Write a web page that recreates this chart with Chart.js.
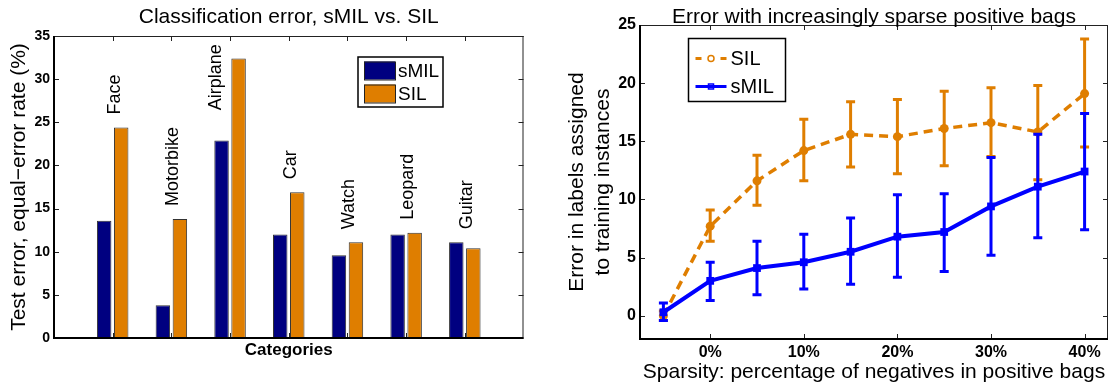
<!DOCTYPE html>
<html>
<head>
<meta charset="utf-8">
<script src="https://cdn.jsdelivr.net/npm/chart.js@4.4.1/dist/chart.umd.min.js"></script>
<style>
  body { margin: 0; background: #fff; }
  #wrap { position: relative; width: 1109px; height: 383px; overflow: hidden; }
  canvas { position: absolute; top: 0; }
  #barChart { left: 0; }
  #lineChart { left: 545px; }
</style>
</head>
<body>
<div id="wrap">
  <canvas id="barChart" width="545" height="383"></canvas>
  <canvas id="lineChart" width="564" height="383"></canvas>
</div>
<script>
// left panel: equal-error rate per category
var categories = ["Face", "Motorbike", "Airplane", "Car", "Watch", "Leopard", "Guitar"];
var smilError = [13.6, 3.8, 22.9, 12.0, 9.6, 12.0, 11.1];
var silError = [24.4, 13.8, 32.4, 16.9, 11.1, 12.2, 10.4];
var barTicks = [0, 5, 10, 15, 20, 25, 30, 35];

// right panel: error vs sparsity, with error bar ends
var sparsity = [-5, 0, 5, 10, 15, 20, 25, 30, 35, 40];
var silMean = [0.0, 7.7, 11.6, 14.2, 15.6, 15.4, 16.1, 16.6, 15.8, 19.1];
var silLow = [-0.4, 6.4, 9.5, 11.6, 12.8, 12.2, 12.9, 13.7, 11.7, 14.5];
var silHigh = [0.4, 9.1, 13.8, 16.9, 18.4, 18.6, 19.3, 19.6, 19.8, 23.8];
var smilMean = [0.3, 3.0, 4.1, 4.6, 5.5, 6.8, 7.2, 9.4, 11.1, 12.4];
var smilLow = [-0.4, 1.3, 1.8, 2.3, 2.7, 3.3, 3.8, 5.2, 6.7, 7.4];
var smilHigh = [1.1, 4.6, 6.4, 7.0, 8.4, 10.4, 10.5, 13.6, 15.6, 17.4];
var sparsityTicks = [0, 10, 20, 30, 40];
var errorTicks = [0, 5, 10, 15, 20, 25];

var FONT = "'Liberation Sans', Arial, Helvetica, sans-serif";
var NAVY = "#000080";
var ORANGE = "#df7e00";
var BLUE = "#0000ff";

Chart.defaults.font.family = FONT;
Chart.defaults.color = "#000";

function setTicks(values) {
  return function (scale) {
    scale.ticks = values.map(function (v) { return { value: v }; });
  };
}

// fixed axis box sizes, no extra room for overhanging labels
function fixHeight(h) {
  return function (s) { s.height = h; s.paddingLeft = 0; s.paddingRight = 0; };
}
function fixWidth(w) {
  return function (s) { s.width = w; s.paddingTop = 0; s.paddingBottom = 0; };
}

// matlab style box with inward ticks
var frame = {
  id: "frame",
  afterDraw: function (chart) {
    var ctx = chart.ctx, a = chart.chartArea;
    var x = chart.scales.x, y = chart.scales.y;
    ctx.save();
    ctx.setLineDash([]);
    ctx.strokeStyle = "#222";
    ctx.lineWidth = 1;
    ctx.beginPath();
    x.ticks.forEach(function (t) {
      var px = Math.round(x.getPixelForValue(t.value)) + 0.5;
      ctx.moveTo(px, a.bottom); ctx.lineTo(px, a.bottom - 5);
      ctx.moveTo(px, a.top); ctx.lineTo(px, a.top + 5);
    });
    y.ticks.forEach(function (t) {
      var py = Math.round(y.getPixelForValue(t.value)) + 0.5;
      ctx.moveTo(a.left, py); ctx.lineTo(a.left + 5, py);
      ctx.moveTo(a.right, py); ctx.lineTo(a.right - 5, py);
    });
    ctx.moveTo(a.left, a.top + 0.5); ctx.lineTo(a.right, a.top + 0.5);
    ctx.moveTo(a.right - 0.5, a.top); ctx.lineTo(a.right - 0.5, a.bottom);
    ctx.stroke();
    ctx.strokeStyle = "#000";
    ctx.lineWidth = 2;
    ctx.beginPath();
    ctx.moveTo(a.left, a.top); ctx.lineTo(a.left, a.bottom); ctx.lineTo(a.right, a.bottom);
    ctx.stroke();
    ctx.restore();
  }
};

var plotTitle = {
  id: "plotTitle",
  afterDraw: function (chart, args, opts) {
    var ctx = chart.ctx, a = chart.chartArea;
    ctx.save();
    ctx.font = "21px " + FONT;
    ctx.fillStyle = "#000";
    ctx.textAlign = "center";
    ctx.textBaseline = "alphabetic";
    ctx.fillText(opts.text, (a.left + a.right) / 2, 22.5);
    ctx.restore();
  }
};

// vertical category names above each pair of bars
var catLabels = {
  id: "catLabels",
  afterDatasetsDraw: function (chart) {
    var ctx = chart.ctx, a = chart.chartArea;
    var x = chart.scales.x, y = chart.scales.y;
    ctx.save();
    ctx.font = "18px " + FONT;
    ctx.fillStyle = "#000";
    ctx.textAlign = "left";
    ctx.textBaseline = "middle";
    categories.forEach(function (name, i) {
      var w = ctx.measureText(name).width;
      var px = x.getPixelForValue(i + 1) + 2;
      var py = y.getPixelForValue(Math.max(smilError[i], silError[i]) + 1.5);
      if (py - w < a.top) {
        // no room above the tall bar, put it over the sMIL bar
        px = chart.getDatasetMeta(0).data[i].x - 6;
        py = y.getPixelForValue(smilError[i] + 3.5);
      }
      ctx.save();
      ctx.translate(px, py);
      ctx.rotate(-Math.PI / 2);
      ctx.fillText(name, 0, 0);
      ctx.restore();
    });
    ctx.restore();
  }
};

var barLegend = {
  id: "barLegend",
  afterDraw: function (chart) {
    var ctx = chart.ctx;
    var bx = 358, by = 57, bw = 85, bh = 50;
    ctx.save();
    ctx.fillStyle = "#fff";
    ctx.fillRect(bx, by, bw, bh);
    ctx.strokeStyle = "#000";
    ctx.lineWidth = 1.5;
    ctx.strokeRect(bx, by, bw, bh);
    ctx.font = "19px " + FONT;
    ctx.textBaseline = "middle";
    chart.data.datasets.forEach(function (ds, i) {
      var cy = by + 13.5 + i * 23;
      ctx.fillStyle = ds.backgroundColor;
      ctx.fillRect(bx + 6, cy - 9, 31, 18);
      ctx.lineWidth = 1;
      ctx.strokeStyle = "#222";
      ctx.strokeRect(bx + 6.5, cy - 8.5, 31, 18);
      ctx.fillStyle = "#000";
      ctx.fillText(ds.label, bx + 40, cy + 1);
    });
    ctx.restore();
  }
};

var errorBars = {
  id: "errorBars",
  afterDatasetDraw: function (chart, args) {
    var ds = chart.data.datasets[args.index];
    if (!ds.errLow) return;
    var ctx = chart.ctx, x = chart.scales.x, y = chart.scales.y;
    ctx.save();
    ctx.setLineDash([]);
    ctx.strokeStyle = ds.borderColor;
    ctx.lineWidth = 3;
    ds.data.forEach(function (p, i) {
      var px = x.getPixelForValue(p.x);
      var lo = y.getPixelForValue(ds.errLow[i]);
      var hi = y.getPixelForValue(ds.errHigh[i]);
      ctx.beginPath();
      ctx.moveTo(px, lo); ctx.lineTo(px, hi);
      ctx.moveTo(px - 4.5, lo); ctx.lineTo(px + 4.5, lo);
      ctx.moveTo(px - 4.5, hi); ctx.lineTo(px + 4.5, hi);
      ctx.stroke();
    });
    ctx.restore();
  }
};

var lineLegend = {
  id: "lineLegend",
  afterDraw: function (chart) {
    var ctx = chart.ctx;
    var bx = 143.5, by = 38.5, bw = 97, bh = 63;
    ctx.save();
    ctx.fillStyle = "#fff";
    ctx.fillRect(bx, by, bw, bh);
    ctx.strokeStyle = "#000";
    ctx.lineWidth = 1.5;
    ctx.strokeRect(bx, by, bw, bh);
    ctx.font = "20px " + FONT;
    ctx.textBaseline = "middle";
    chart.data.datasets.forEach(function (ds, i) {
      var cy = by + 20 + i * 28;
      var x0 = bx + 7, x1 = bx + 38, xm = (x0 + x1) / 2;
      ctx.strokeStyle = ds.borderColor;
      ctx.lineWidth = 3;
      ctx.beginPath();
      if (ds.borderDash) {
        ctx.moveTo(x0, cy); ctx.lineTo(x0 + 6, cy);
        ctx.moveTo(x1 - 6, cy); ctx.lineTo(x1, cy);
      } else {
        ctx.moveTo(x0, cy); ctx.lineTo(x1, cy);
      }
      ctx.stroke();
      ctx.lineWidth = 1.5;
      ctx.beginPath();
      if (ds.pointStyle === "rect") {
        ctx.rect(xm - 2.5, cy - 2.5, 5, 5);
      } else {
        ctx.arc(xm, cy, 3, 0, Math.PI * 2);
      }
      ctx.stroke();
      ctx.fillStyle = "#000";
      ctx.fillText(ds.label, x1 + 4, cy + 1);
    });
    ctx.restore();
  }
};

function points(xs, ys) {
  return xs.map(function (v, i) { return { x: v, y: ys[i] }; });
}

new Chart("barChart", {
  type: "bar",
  data: {
    datasets: [{
      label: "sMIL",
      data: points([1, 2, 3, 4, 5, 6, 7], smilError),
      backgroundColor: NAVY,
      borderColor: "#333",
      borderWidth: 1,
      borderSkipped: false,
      categoryPercentage: 0.58,
      barPercentage: 0.85
    }, {
      label: "SIL",
      data: points([1, 2, 3, 4, 5, 6, 7], silError),
      backgroundColor: ORANGE,
      borderColor: "#333",
      borderWidth: 1,
      borderSkipped: false,
      categoryPercentage: 0.58,
      barPercentage: 0.85
    }]
  },
  options: {
    responsive: false,
    animation: false,
    devicePixelRatio: 1,
    layout: { autoPadding: false, padding: { top: 36, right: 21.5, bottom: 0, left: 0 } },
    plugins: {
      legend: { display: false },
      tooltip: { enabled: false },
      plotTitle: { text: "Classification error, sMIL vs. SIL" }
    },
    scales: {
      x: {
        type: "linear",
        min: 0,
        max: 8,
        offset: false,
        grid: { display: false, drawTicks: false },
        border: { display: false },
        ticks: { display: false },
        afterBuildTicks: setTicks([1, 2, 3, 4, 5, 6, 7]),
        afterFit: fixHeight(45),
        title: {
          display: true,
          text: "Categories",
          font: { size: 17, weight: "bold" },
          padding: { top: 0, bottom: 22 }
        }
      },
      y: {
        min: 0,
        max: 35,
        grid: { display: false, drawTicks: false },
        border: { display: false },
        ticks: { font: { size: 14, weight: "bold" }, padding: 4 },
        afterBuildTicks: setTicks(barTicks),
        afterFit: fixWidth(54),
        title: {
          display: true,
          text: "Test error, equal\u2212error rate (%)",
          font: { size: 21 },
          padding: { top: 7, bottom: 0 }
        }
      }
    }
  },
  plugins: [catLabels, frame, plotTitle, barLegend]
});

new Chart("lineChart", {
  type: "line",
  data: {
    datasets: [{
      label: "SIL",
      data: points(sparsity, silMean),
      errLow: silLow,
      errHigh: silHigh,
      borderColor: ORANGE,
      backgroundColor: ORANGE,
      borderWidth: 3.5,
      borderDash: [9, 6],
      pointStyle: "circle",
      pointRadius: 4.5,
      pointBorderWidth: 0,
      tension: 0,
      order: 1
    }, {
      label: "sMIL",
      data: points(sparsity, smilMean),
      errLow: smilLow,
      errHigh: smilHigh,
      borderColor: BLUE,
      backgroundColor: BLUE,
      borderWidth: 4,
      pointStyle: "rect",
      pointRadius: 5.5,
      pointBorderWidth: 0,
      tension: 0,
      order: 0
    }]
  },
  options: {
    responsive: false,
    animation: false,
    devicePixelRatio: 1,
    layout: { autoPadding: false, padding: { top: 25, right: 1, bottom: 0, left: 0 } },
    plugins: {
      legend: { display: false },
      tooltip: { enabled: false },
      plotTitle: { text: "Error with increasingly sparse positive bags" }
    },
    scales: {
      x: {
        type: "linear",
        min: -7.5,
        max: 42.5,
        grid: { display: false, drawTicks: false },
        border: { display: false },
        ticks: {
          font: { size: 16, weight: "bold" },
          padding: 4,
          callback: function (v) { return v + "%"; }
        },
        afterBuildTicks: setTicks(sparsityTicks),
        afterFit: fixHeight(44),
        title: {
          display: true,
          text: "Sparsity: percentage of negatives in positive bags",
          font: { size: 21, lineHeight: 1 },
          padding: { top: 0, bottom: 0 }
        }
      },
      y: {
        min: -2,
        max: 25,
        grid: { display: false, drawTicks: false },
        border: { display: false },
        ticks: { font: { size: 16, weight: "bold" }, padding: 4 },
        afterBuildTicks: setTicks(errorTicks),
        afterFit: fixWidth(95),
        title: {
          display: true,
          text: ["Error in labels assigned", "to training instances"],
          font: { size: 21, lineHeight: 1.24 },
          padding: { top: 19.5, bottom: 0 }
        }
      }
    }
  },
  plugins: [errorBars, frame, plotTitle, lineLegend]
});
</script>
</body>
</html>
